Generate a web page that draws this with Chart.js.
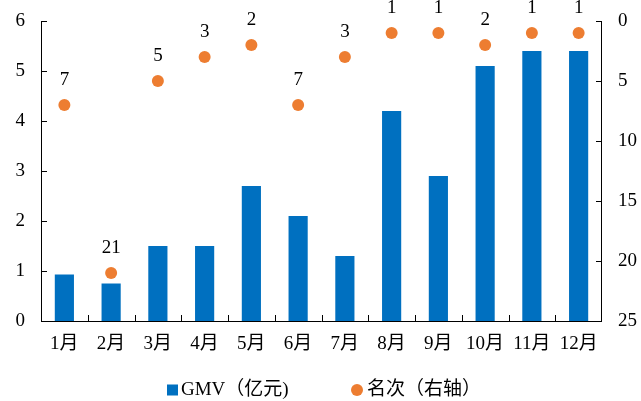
<!DOCTYPE html>
<html>
<head>
<meta charset="utf-8">
<script src="https://cdn.jsdelivr.net/npm/chart.js@4.4.1/dist/chart.umd.min.js"></script>
<style>
  html, body { margin: 0; padding: 0; background: #fff; }
  #wrap { width: 641px; height: 401px; }
</style>
</head>
<body>
<div id="wrap"><canvas id="c" width="641" height="401"></canvas></div>
<script>
// Monthly GMV (亿元) and ranking (名次, right axis, reversed)
const months = ['1月','2月','3月','4月','5月','6月','7月','8月','9月','10月','11月','12月'];
const gmv = [0.93, 0.75, 1.5, 1.5, 2.7, 2.1, 1.3, 4.2, 2.9, 5.1, 5.4, 5.4];
const rank = [7, 21, 5, 3, 2, 7, 3, 1, 1, 2, 1, 1];
const leftTicks = [0, 1, 2, 3, 4, 5, 6];
const rightTicks = [0, 5, 10, 15, 20, 25];
const legendNames = ['GMV（亿元)', '名次（右轴）'];

const FONT = '"Liberation Serif", "Noto Sans CJK SC", serif';
const FSIZE = 19;
const BLUE = '#0070C0';
const ORANGE = '#ED7D31';

// Axis lines with ticks pointing into the plot area
const innerTicks = {
  id: 'innerTicks',
  afterDraw(chart) {
    const ctx = chart.ctx;
    const a = chart.chartArea;
    const L = 6;
    ctx.save();
    ctx.strokeStyle = '#000';
    ctx.lineWidth = 1;
    ctx.beginPath();
    const yl = chart.scales.y;
    ctx.moveTo(a.left + 0.5, a.top); ctx.lineTo(a.left + 0.5, a.bottom);
    yl.ticks.forEach((t, i) => {
      const p = Math.round(yl.getPixelForTick(i)) + 0.5;
      ctx.moveTo(a.left, p); ctx.lineTo(a.left + L, p);
    });
    const yr = chart.scales.y2;
    ctx.moveTo(a.right - 0.5, a.top); ctx.lineTo(a.right - 0.5, a.bottom);
    yr.ticks.forEach((t, i) => {
      const p = Math.round(yr.getPixelForTick(i)) + 0.5;
      ctx.moveTo(a.right, p); ctx.lineTo(a.right - L, p);
    });
    ctx.moveTo(a.left, a.bottom + 0.5); ctx.lineTo(a.right, a.bottom + 0.5);
    const step = (a.right - a.left) / months.length;
    for (let i = 1; i < months.length; i++) {
      const p = Math.round(a.left + step * i) + 0.5;
      ctx.moveTo(p, a.bottom); ctx.lineTo(p, a.bottom - L);
    }
    ctx.stroke();
    ctx.restore();
  }
};

// Rank numbers above each dot
const rankLabels = {
  id: 'rankLabels',
  afterDatasetsDraw(chart) {
    const ctx = chart.ctx;
    const meta = chart.getDatasetMeta(1);
    ctx.save();
    ctx.fillStyle = '#000';
    ctx.font = FSIZE + 'px ' + FONT;
    ctx.textAlign = 'center';
    ctx.textBaseline = 'middle';
    meta.data.forEach((pt, i) => {
      ctx.fillText(String(rank[i]), pt.x, pt.y - 25);
    });
    ctx.restore();
  }
};

// Legend row below the axis
const bottomLegend = {
  id: 'bottomLegend',
  afterDraw(chart) {
    const ctx = chart.ctx;
    const y = 390;
    ctx.save();
    ctx.font = FSIZE + 'px ' + FONT;
    ctx.textBaseline = 'middle';
    ctx.textAlign = 'left';
    ctx.fillStyle = BLUE;
    ctx.fillRect(167, y - 5.5, 11, 11);
    ctx.fillStyle = '#000';
    ctx.fillText(legendNames[0], 181, y);
    ctx.fillStyle = ORANGE;
    ctx.beginPath();
    ctx.arc(357, y, 6, 0, Math.PI * 2);
    ctx.fill();
    ctx.fillStyle = '#000';
    ctx.fillText(legendNames[1], 367, y);
    ctx.restore();
  }
};

// Keep the plot area fixed regardless of label overflow
function noOverflow(s) {
  s.paddingTop = 0; s.paddingBottom = 0; s.paddingLeft = 0; s.paddingRight = 0;
}

new Chart(document.getElementById('c'), {
  data: {
    labels: months,
    datasets: [
      {
        type: 'bar',
        label: legendNames[0],
        data: gmv,
        backgroundColor: BLUE,
        borderWidth: 0,
        barPercentage: 0.41,
        categoryPercentage: 1,
        yAxisID: 'y',
        order: 2
      },
      {
        type: 'line',
        label: legendNames[1],
        data: rank,
        showLine: false,
        pointRadius: 6,
        pointHoverRadius: 6,
        pointBackgroundColor: ORANGE,
        pointBorderWidth: 0,
        backgroundColor: ORANGE,
        borderColor: ORANGE,
        yAxisID: 'y2',
        order: 1
      }
    ]
  },
  options: {
    responsive: false,
    animation: false,
    devicePixelRatio: 1,
    layout: { padding: { top: 21, left: 0, right: 0, bottom: 36 } },
    plugins: {
      tooltip: { enabled: false },
      legend: { display: false }
    },
    scales: {
      x: {
        type: 'category',
        grid: { display: false, drawTicks: false },
        border: { display: false },
        ticks: { font: { family: FONT, size: FSIZE }, color: '#000', padding: 12, maxRotation: 0 },
        afterFit(s) { s.height = 44; noOverflow(s); }
      },
      y: {
        position: 'left',
        min: 0, max: 6,
        afterBuildTicks(s) { s.ticks = leftTicks.map(v => ({ value: v })); },
        grid: { display: false, drawTicks: false },
        border: { display: false },
        ticks: { font: { family: FONT, size: FSIZE }, color: '#000', padding: 16 },
        afterFit(s) { s.width = 41; noOverflow(s); }
      },
      y2: {
        position: 'right',
        min: 0, max: 25,
        reverse: true,
        afterBuildTicks(s) { s.ticks = rightTicks.map(v => ({ value: v })); },
        grid: { display: false, drawTicks: false },
        border: { display: false },
        ticks: { font: { family: FONT, size: FSIZE }, color: '#000', padding: 16 },
        afterFit(s) { s.width = 39; noOverflow(s); }
      }
    }
  },
  plugins: [innerTicks, rankLabels, bottomLegend]
});
</script>
</body>
</html>
